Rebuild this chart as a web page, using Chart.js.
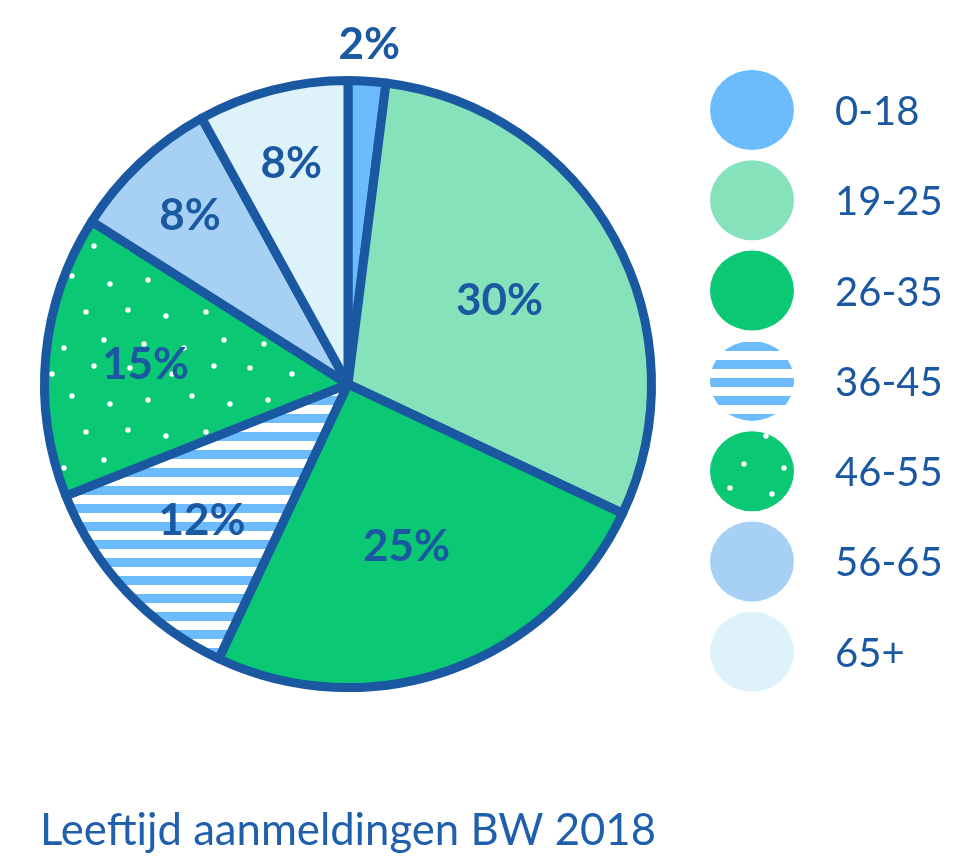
<!DOCTYPE html>
<html lang="nl">
<head>
    <meta charset="UTF-8">
    <title>Leeftijd aanmeldingen BW 2018</title>
    <script src="https://cdn.jsdelivr.net/npm/chart.js"></script>
    <style>
        html, body {
            margin: 0;
            padding: 0;
            background: #fff;
        }
        .chart-container {
            width: 957px;
            height: 860px;
            position: relative;
        }
    </style>
</head>
<body>

<div class="chart-container">
    <canvas id="ageChart"></canvas>
</div>

<script>
    // data
    const categories = ['0-18', '19-25', '26-35', '36-45', '46-55', '56-65', '65+'];
    const shares = [2, 30, 25, 12, 15, 8, 8];
    const chartTitle = 'Leeftijd aanmeldingen BW 2018';

    const BLUE = '#1a58a2';
    const FONT = 'Lato, "Noto Sans", sans-serif';

    // label distance from the centre, as a fraction of the radius
    const labelRadius = [1.12, 0.57, 0.57, 0.66, 0.67, 0.76, 0.75];

    const makeStripes = () => {
        const c = document.createElement('canvas');
        c.width = 40; c.height = 18;
        const g = c.getContext('2d');
        g.fillStyle = '#ffffff';
        g.fillRect(0, 0, 40, 18);
        g.fillStyle = '#6cbbfc';
        g.fillRect(0, 0, 40, 9);
        return g.createPattern(c, 'repeat');
    };

    const makeDots = () => {
        const c = document.createElement('canvas');
        c.width = 120; c.height = 120;
        const g = c.getContext('2d');
        g.fillStyle = '#0ac873';
        g.fillRect(0, 0, 120, 120);
        g.fillStyle = '#ffffff';
        const dots = [[10, 8], [52, 14], [94, 6], [28, 40], [72, 36], [110, 44],
                      [8, 70], [46, 76], [86, 72], [24, 104], [64, 108], [104, 100]];
        dots.forEach(([x, y]) => {
            g.beginPath();
            g.arc(x, y, 2.7, 0, Math.PI * 2);
            g.fill();
        });
        return g.createPattern(c, 'repeat');
    };

    const colors = ['#6cbbfc', '#86e2bb', '#0ac873', makeStripes(), makeDots(), '#a6d0f4', '#def2fa'];

    const sliceLabels = {
        id: 'sliceLabels',
        afterDatasetsDraw(chart) {
            const ctx = chart.ctx;
            const meta = chart.getDatasetMeta(0);
            ctx.save();
            ctx.fillStyle = BLUE;
            ctx.font = 'bold 44px ' + FONT;
            ctx.textAlign = 'center';
            ctx.textBaseline = 'middle';
            meta.data.forEach((arc, i) => {
                const p = arc.getProps(['x', 'y', 'startAngle', 'endAngle', 'outerRadius'], true);
                const mid = (p.startAngle + p.endAngle) / 2;
                const d = p.outerRadius * labelRadius[i];
                ctx.fillText(shares[i] + '%', p.x + Math.cos(mid) * d, p.y + Math.sin(mid) * d);
            });
            ctx.restore();
        }
    };

    const sideLegend = {
        id: 'sideLegend',
        afterDraw(chart) {
            const ctx = chart.ctx;
            ctx.save();
            categories.forEach((cat, i) => {
                const y = 110 + i * 90.3;
                ctx.fillStyle = colors[i];
                ctx.beginPath();
                ctx.ellipse(752, y, 42, 40, 0, 0, Math.PI * 2);
                ctx.fill();
                ctx.fillStyle = BLUE;
                ctx.font = '40px ' + FONT;
                ctx.textAlign = 'left';
                ctx.textBaseline = 'middle';
                ctx.fillText(cat, 835, y + 2);
            });
            ctx.restore();
        }
    };

    const ctx = document.getElementById('ageChart').getContext('2d');

    new Chart(ctx, {
        type: 'pie',
        data: {
            labels: categories,
            datasets: [{
                data: shares,
                backgroundColor: colors,
                borderColor: BLUE,
                borderWidth: 9,
                borderJoinStyle: 'round'
            }]
        },
        options: {
            responsive: true,
            maintainAspectRatio: false,
            animation: false,
            events: [],
            layout: {
                padding: { top: 76, left: 40, right: 301, bottom: 0 }
            },
            plugins: {
                legend: { display: false },
                tooltip: { enabled: false },
                title: {
                    display: true,
                    text: chartTitle,
                    position: 'bottom',
                    align: 'start',
                    color: '#1f5fab',
                    font: { family: FONT, size: 44, weight: 'normal' },
                    padding: { top: 112, bottom: 3 }
                }
            }
        },
        plugins: [sliceLabels, sideLegend]
    });
</script>

</body>
</html>
